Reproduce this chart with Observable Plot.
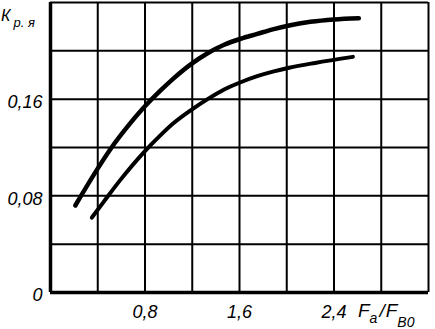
<!DOCTYPE html>
<html>
<head>
<meta charset="utf-8">
<script src="https://cdn.jsdelivr.net/npm/d3@7"></script>
<script src="https://cdn.jsdelivr.net/npm/@observablehq/plot@0.6"></script>
<style>
  html, body { margin: 0; padding: 0; background: #fff; }
  #chart { width: 435px; height: 329px; }
</style>
</head>
<body>
<div id="chart"></div>
<script>
// Upper curve
const upperX = [0.21, 0.37, 0.51, 0.65, 0.78, 0.93, 1.04, 1.19, 1.33, 1.47, 1.61, 1.75, 1.89, 2.02, 2.20, 2.40, 2.61];
const upperY = [0.072, 0.098, 0.119, 0.137, 0.152, 0.167, 0.177, 0.189, 0.198, 0.205, 0.210, 0.214, 0.218, 0.221, 0.224, 0.226, 0.227];
// Lower curve
const lowerX = [0.35, 0.45, 0.59, 0.79, 0.93, 1.04, 1.19, 1.33, 1.47, 1.61, 1.75, 1.89, 2.02, 2.24, 2.56];
const lowerY = [0.062, 0.075, 0.093, 0.116, 0.130, 0.140, 0.151, 0.160, 0.168, 0.174, 0.179, 0.183, 0.186, 0.190, 0.195];

const xTicks = [0.8, 1.6, 2.4];
const yTicks = [0, 0.08, 0.16];
const xGrid = [0.4, 0.8, 1.2, 1.6, 2.0, 2.4, 2.8, 3.2];
const yGrid = [0.04, 0.08, 0.12, 0.16, 0.20, 0.24];

const upper = upperX.map((x, i) => ({x, y: upperY[i]}));
const lower = lowerX.map((x, i) => ({x, y: lowerY[i]}));
const fmt = d => String(d).replace(".", ",");

const font = "'Liberation Sans', Arial, sans-serif";

const plot = Plot.plot({
  width: 435,
  height: 329,
  marginLeft: 50,
  marginRight: 7,
  marginTop: 2,
  marginBottom: 37,
  style: {fontFamily: font, fontStyle: "italic", fontSize: "18px", background: "#fff", color: "#000"},
  x: {domain: [0, 3.2]},
  y: {domain: [0, 0.24]},
  marks: [
    Plot.ruleX(xGrid, {stroke: "#000", strokeWidth: 2}),
    Plot.ruleY(yGrid, {stroke: "#000", strokeWidth: 2}),
    Plot.ruleX([0], {stroke: "#000", strokeWidth: 3.5}),
    Plot.ruleY([0], {stroke: "#000", strokeWidth: 3.5}),
    Plot.line(upper, {x: "x", y: "y", curve: "monotone-x", stroke: "#000", strokeWidth: 4.5, strokeLinecap: "round"}),
    Plot.line(lower, {x: "x", y: "y", curve: "monotone-x", stroke: "#000", strokeWidth: 4, strokeLinecap: "round"}),
    Plot.axisX({ticks: xTicks, tickSize: 0, tickPadding: 13, tickFormat: fmt, label: null, fontSize: 18}),
    Plot.axisY({ticks: yTicks, tickSize: 0, tickPadding: 8, tickFormat: fmt, label: null, fontSize: 18, dy: 3})
  ]
});

document.getElementById("chart").appendChild(plot);

const svg = d3.select(plot);
// y-axis label: К р.я
const yl = svg.append("text")
  .attr("x", 1).attr("y", 21)
  .attr("text-anchor", "start")
  .attr("font-family", font).attr("font-style", "italic")
  .attr("font-size", 16).attr("fill", "#000");
yl.append("tspan").text("К");
yl.append("tspan").attr("font-size", 13).attr("dx", 3).attr("dy", 6).text("р. я");

// x-axis label: Fа / Fв0
const xl = svg.append("text")
  .attr("x", 358).attr("y", 317)
  .attr("text-anchor", "start")
  .attr("font-family", font).attr("font-style", "italic")
  .attr("font-size", 19).attr("fill", "#000");
xl.append("tspan").text("F");
xl.append("tspan").attr("font-size", 14).attr("dy", 6).text("a");
xl.append("tspan").attr("dy", -6).attr("dx", 2).text("/");
xl.append("tspan").attr("dx", 1).text("F");
xl.append("tspan").attr("font-size", 14).attr("dy", 10).text("В0");
</script>
</body>
</html>
